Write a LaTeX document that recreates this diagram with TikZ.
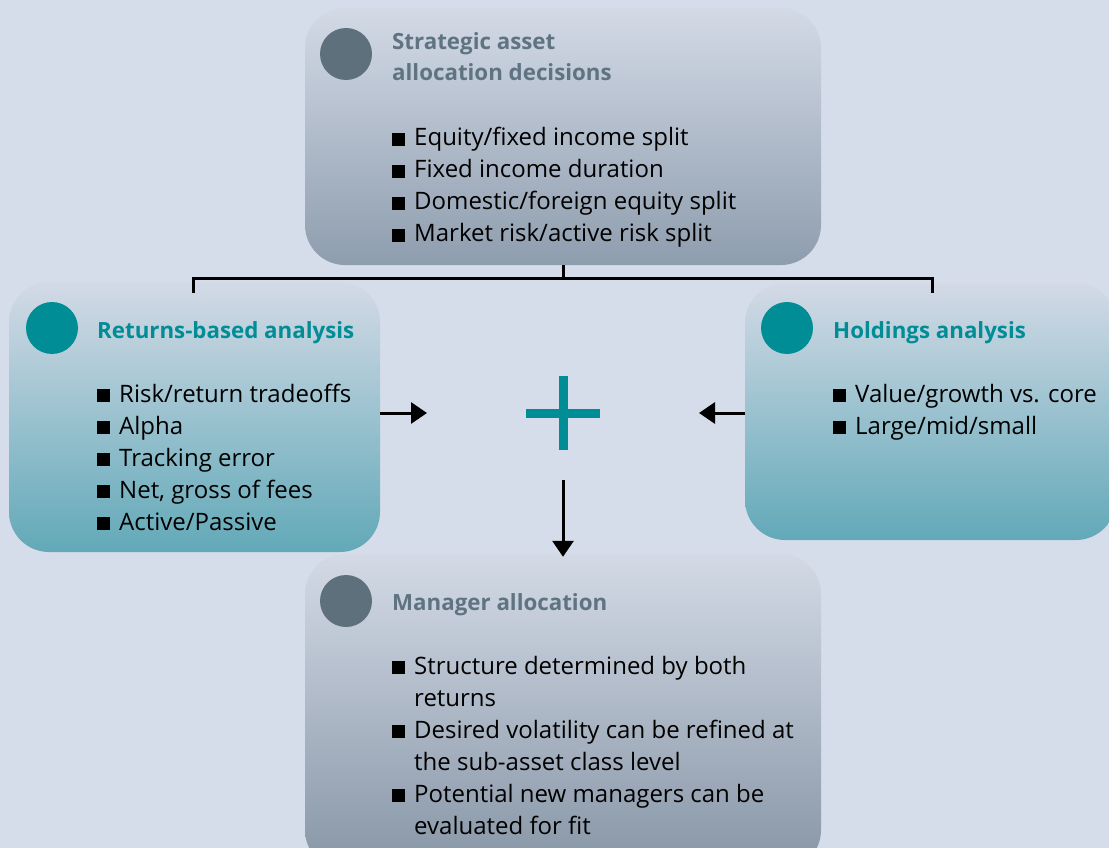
\documentclass[tikz,border=0pt]{standalone}
\usepackage{fontspec}
\setmainfont{Open Sans}
\usetikzlibrary{arrows.meta,calc}
\definecolor{bg}{HTML}{D6DDEA}
\definecolor{boxtop}{HTML}{D3DAE6}
\definecolor{graybot}{HTML}{8E9DAE}
\definecolor{tealbot}{HTML}{62A9B8}
\definecolor{tealc}{HTML}{008D96}
\definecolor{grayc}{HTML}{5E707C}
\definecolor{graytitle}{HTML}{5F7380}
\newcommand{\bsq}{\rule{13pt}{13pt}\hspace{9pt}}
\newcommand{\ind}{\hspace*{22pt}}
\newcommand{\rows}[1]{\begin{tabular}[t]{@{}l@{}}#1\end{tabular}}
\tikzset{
  gbox/.style={rectangle, rounded corners=40pt, top color=boxtop, bottom color=graybot, draw=none, inner sep=0pt},
  tbox/.style={rectangle, rounded corners=40pt, top color=boxtop, bottom color=tealbot, draw=none, inner sep=0pt},
  dot/.style={circle, minimum size=52pt, inner sep=0pt, draw=none},
  ttl/.style={anchor=base west, inner sep=0pt, font=\bfseries\fontsize{22.3}{31}\selectfont},
  items/.style={anchor=base west, inner sep=0pt, font=\fontsize{24}{32}\selectfont, text=black},
  conn/.style={line width=3pt, black},
  arr/.style={line width=3pt, black, -{Triangle[length=16pt,width=21pt]}},
}
\begin{document}
\begin{tikzpicture}[x=1pt,y=-1pt]
\useasboundingbox (0,0) rectangle (1109,848);
\clip (0,0) rectangle (1109,848);
\fill[bg] (0,0) rectangle (1109,848);

% boxes
\node[gbox, minimum width=516pt, minimum height=257pt] (topb) at (563,136.5) {};
\node[tbox, minimum width=371pt, minimum height=270pt] (lbox) at (194.5,417) {};
\node[tbox, minimum width=371pt, minimum height=257pt] (rbox) at (930.5,411.5) {};
\node[gbox, minimum width=516pt, minimum height=316pt, bottom color=graybot!95!black] (bbox) at (563,712) {};

% circles
\node[dot, fill=grayc] (c1) at (346,54) {};
\node[dot, fill=tealc] (c2) at (52,328) {};
\node[dot, fill=tealc] (c3) at (787,328) {};
\node[dot, fill=grayc] (c4) at (346,601) {};

% titles
\node[ttl, text=graytitle] (t1) at (392,50) {\rows{Strategic asset\\allocation decisions}};
\node[ttl, text=tealc] (t2) at (97,338) {Returns-based analysis};
\node[ttl, text=tealc] (t3) at (833,338) {Holdings analysis};
\node[ttl, text=graytitle] (t4) at (392,610) {Manager allocation};

% items
\node[items] (i1) at (392,146) {\rows{\bsq Equity/fixed income split\\\bsq Fixed income duration\\\bsq Domestic/foreign equity split\\\bsq Market risk/active risk split}};
\node[items] (i2) at (97,402) {\rows{\bsq Risk/return tradeoffs\\\bsq Alpha\\\bsq Tracking error\\\bsq Net, gross of fees\\\bsq Active/Passive}};
\node[items] (i3) at (833,402) {\rows{\bsq Value/growth vs. core\\\bsq Large/mid/small}};
\node[items] (i4) at (392,674) {\rows{\bsq Structure determined by both\\\ind returns\\\bsq Desired volatility can be refined at\\\ind the sub-asset class level\\\bsq Potential new managers can be\\\ind evaluated for fit}};

% connectors
\coordinate (bus) at (563,278);
\coordinate (ldrop) at (193,293);
\coordinate (rdrop) at (932,293);
\draw[conn] (topb.south) -- (bus);
\draw[conn] (ldrop) |- (bus) -| (rdrop);

% plus
\coordinate (plus) at (563,413);
\fill[tealc] (526,409) rectangle (600,418);
\fill[tealc] (558.5,376) rectangle (567.5,450);
\coordinate (pl) at (427,413);
\coordinate (pr) at (699,413);
\coordinate (pd) at (563,480);
\draw[arr] (lbox.east |- plus) -- (pl);
\draw[arr] (rbox.west |- plus) -- (pr);
\draw[arr] (pd) -- ($(bbox.north)+(0,3)$);
\end{tikzpicture}
\end{document}
